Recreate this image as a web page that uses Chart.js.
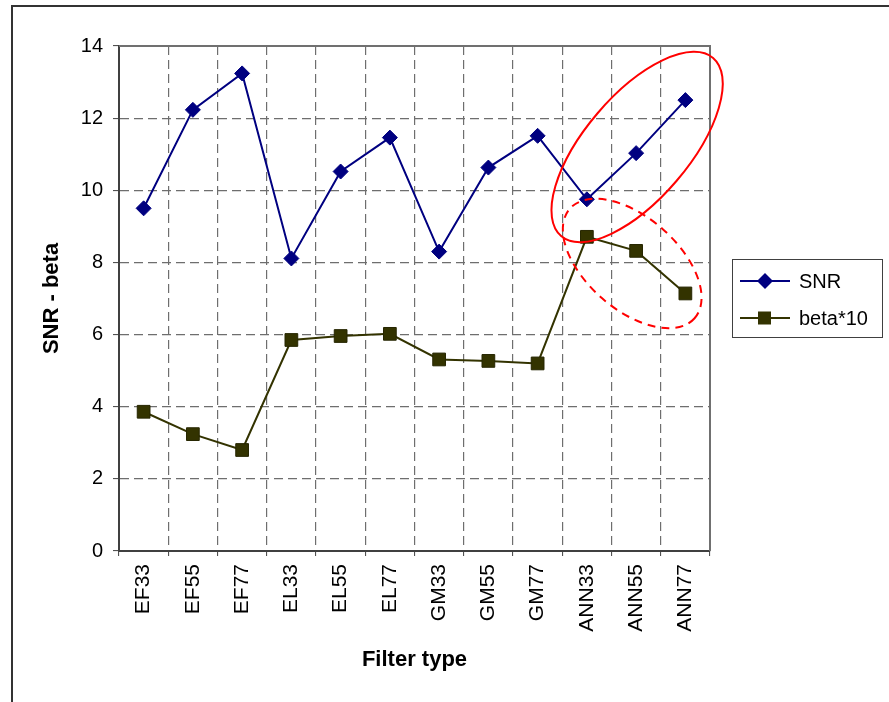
<!DOCTYPE html>
<html lang="en">
<head>
<meta charset="UTF-8">
<title>SNR - beta by filter type</title>
<script src="https://cdn.jsdelivr.net/npm/chart.js"></script>
<style>
  html, body { margin: 0; padding: 0; background: #fff; overflow: hidden; }
  .frame {
    position: absolute; left: 11px; top: 5px;
    width: 1000px; height: 1000px;
    border-left: 2px solid #333; border-top: 2px solid #333;
  }
  .wrap { position: absolute; left: 0; top: 0; width: 889px; height: 702px; }
</style>
</head>
<body>
<div class="frame"></div>
<div class="wrap"><canvas id="chart"></canvas></div>
<script>
const categories = ["EF33", "EF55", "EF77", "EL33", "EL55", "EL77", "GM33", "GM55", "GM77", "ANN33", "ANN55", "ANN77"];
const snr = [9.5, 12.23, 13.24, 8.11, 10.52, 11.46, 8.3, 10.63, 11.51, 9.75, 11.03, 12.5];
const beta10 = [3.86, 3.24, 2.8, 5.85, 5.96, 6.02, 5.31, 5.27, 5.2, 8.71, 8.32, 7.14];
const seriesNames = ["SNR", "beta*10"];

const FONT = "'Liberation Sans', Arial, sans-serif";
const NAVY = "#000080";
const OLIVE = "#333300";

// red rings drawn over the ANN results (centre in data units, radii in px)
const rings = [
  { x: 10.02, y: 11.2, rx: 117, ry: 52, rot: -0.864, dash: [] },
  { x: 9.92, y: 7.97, rx: 83, ry: 46, rot: 0.72, dash: [8, 6] }
];

function diamond(ctx, x, y, r) {
  ctx.beginPath();
  ctx.moveTo(x, y - r); ctx.lineTo(x + r, y); ctx.lineTo(x, y + r); ctx.lineTo(x - r, y);
  ctx.closePath();
}

const plotFrame = {
  id: 'plotFrame',
  beforeDatasetsDraw(chart) {
    const { ctx, chartArea: a } = chart;
    ctx.save();
    ctx.strokeStyle = '#707070';
    ctx.lineWidth = 2;
    ctx.beginPath();
    ctx.moveTo(a.left, a.top);
    ctx.lineTo(a.right, a.top);
    ctx.lineTo(a.right, a.bottom);
    ctx.stroke();
    ctx.restore();
  },
  afterDatasetsDraw(chart) {
    const { ctx, scales } = chart;
    ctx.save();
    ctx.strokeStyle = '#ff0000';
    ctx.lineWidth = 2;
    rings.forEach(r => {
      ctx.setLineDash(r.dash);
      ctx.beginPath();
      ctx.ellipse(scales.x.getPixelForValue(r.x), scales.y.getPixelForValue(r.y), r.rx, r.ry, r.rot, 0, Math.PI * 2);
      ctx.stroke();
    });
    ctx.setLineDash([]);

    // legend
    ctx.strokeStyle = '#404040';
    ctx.lineWidth = 1;
    ctx.strokeRect(732.5, 259.5, 150, 78);
    ctx.font = '20px ' + FONT;
    ctx.textBaseline = 'middle';
    chart.data.datasets.forEach((ds, i) => {
      const y = 281 + i * 37;
      ctx.strokeStyle = ds.borderColor;
      ctx.lineWidth = 2;
      ctx.beginPath(); ctx.moveTo(740, y); ctx.lineTo(790, y); ctx.stroke();
      ctx.fillStyle = ds.pointBackgroundColor;
      if (i === 0) { diamond(ctx, 765, y, 8); ctx.fill(); }
      else { ctx.fillRect(758, y - 6.5, 13, 13); }
      ctx.fillStyle = '#000';
      ctx.fillText(ds.label, 799, y + 1);
    });
    ctx.restore();
  }
};

new Chart(document.getElementById('chart'), {
  type: 'line',
  data: {
    labels: categories,
    datasets: [
      {
        label: seriesNames[0],
        data: snr,
        borderColor: NAVY,
        backgroundColor: NAVY,
        pointBackgroundColor: NAVY,
        pointBorderColor: NAVY,
        borderWidth: 2,
        pointStyle: 'rectRot',
        pointRadius: 7.5,
        pointBorderWidth: 1,
        tension: 0
      },
      {
        label: seriesNames[1],
        data: beta10,
        borderColor: OLIVE,
        backgroundColor: OLIVE,
        pointBackgroundColor: OLIVE,
        pointBorderColor: '#262600',
        borderWidth: 2,
        pointStyle: 'rect',
        pointRadius: 9,
        pointBorderWidth: 1,
        tension: 0
      }
    ]
  },
  options: {
    responsive: true,
    maintainAspectRatio: false,
    animation: false,
    layout: { padding: { left: 0, top: 46, right: 179, bottom: 0 } },
    plugins: { legend: { display: false }, tooltip: { enabled: false } },
    scales: {
      x: {
        offset: true,
        afterFit(s) { s.height = 151; },
        grid: { offset: true, color: '#6e6e6e', lineWidth: 1.2, tickLength: 5, tickColor: '#404040', tickWidth: 1 },
        border: { color: '#404040', width: 2, dash: [9, 5] },
        ticks: {
          autoSkip: false, minRotation: 90, maxRotation: 90, padding: 8,
          color: '#000', font: { family: FONT, size: 21 }
        },
        title: {
          display: true, text: 'Filter type', color: '#000',
          font: { family: FONT, size: 22, weight: 'bold' },
          padding: { top: 0, bottom: 29 }
        }
      },
      y: {
        min: 0, max: 14,
        afterFit(s) { s.width = 119; },
        grid: { color: '#6e6e6e', lineWidth: 1.2, tickLength: 6, tickColor: '#404040', tickWidth: 1 },
        border: { color: '#404040', width: 2, dash: [9, 5] },
        ticks: { stepSize: 2, padding: 10, color: '#000', font: { family: FONT, size: 20 } },
        title: {
          display: true, text: 'SNR - beta', color: '#000',
          font: { family: FONT, size: 22, weight: 'bold' },
          padding: { top: 39, bottom: 0 }
        }
      }
    }
  },
  plugins: [plotFrame]
});
</script>
</body>
</html>
